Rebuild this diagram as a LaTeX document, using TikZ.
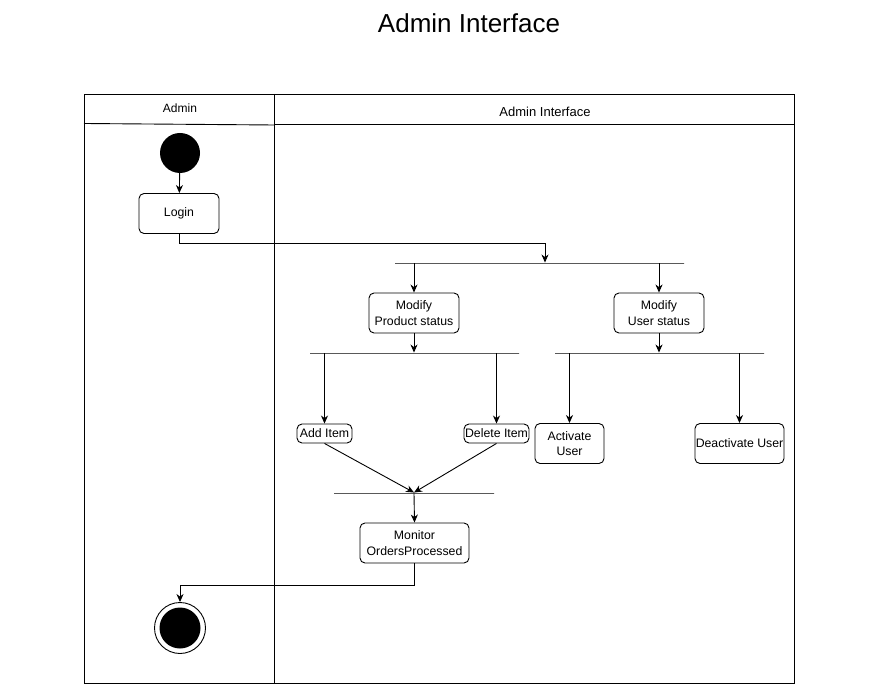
\documentclass[tikz,border=0pt]{standalone}
\usepackage{fontspec}
\setmainfont{Liberation Sans}
\usetikzlibrary{arrows.meta}
\begin{document}
\begin{tikzpicture}[x=1pt,y=-1pt,
  act/.style={draw,rounded corners=5pt,line width=0.9pt,align=center,font=\fontsize{12.3}{15.5}\selectfont,inner sep=0pt},
  bar/.style={draw,line width=0.9pt,minimum height=0pt,inner sep=0pt},
  flow/.style={draw,line width=0.9pt,-{Stealth[length=8pt,width=7pt,inset=2.5pt]}},
  frame/.style={draw,line width=0.9pt}]
\useasboundingbox (0,0) rectangle (878,684);
\node[font=\fontsize{26}{30}\selectfont] (title) at (469,23) {Admin Interface};
% swimlanes
\draw[frame] (84,94) rectangle (794,683);
\draw[frame] (274,94) -- (274,683);
\draw[frame] (84,123.5) -- (274,125);
\draw[frame] (274,124.5) -- (794,124.5);
\node[font=\fontsize{12}{14}\selectfont] (laneA) at (180,108) {Admin};
\node[font=\fontsize{13}{15}\selectfont] (laneB) at (545,112) {Admin Interface};
% start
\node[circle,fill=black,minimum size=40pt,inner sep=0pt] (start) at (180,153) {};
\node[act,minimum width=80pt,minimum height=40pt] (login) at (179,213.5) {Login};
% bars
\node[bar,minimum width=289pt] (b1) at (539.5,263) {};
\node[bar,minimum width=209pt] (b2) at (414.5,353) {};
\node[bar,minimum width=209pt] (b3) at (659.5,353) {};
\node[bar,minimum width=160pt] (b4) at (414,493) {};
% activities
\node[act,minimum width=90pt,minimum height=40pt] (mps) at (414,313) {Modify\\Product status};
\node[act,minimum width=90pt,minimum height=40pt] (mus) at (659,313) {Modify\\User status};
\node[act,minimum width=55pt,minimum height=19pt] (add) at (324.5,433.5) {Add Item};
\node[act,minimum width=65pt,minimum height=19pt] (del) at (496.5,433.5) {Delete Item};
\node[act,minimum width=69pt,minimum height=40pt] (act) at (569.5,443.5) {Activate\\User};
\node[act,minimum width=89pt,minimum height=40pt] (deact) at (739.5,443.5) {Deactivate User};
\node[act,minimum width=109pt,minimum height=40pt] (mon) at (414.5,543) {Monitor\\OrdersProcessed};
% end
\node[circle,draw,line width=0.9pt,minimum size=51pt,inner sep=0pt] (end) at (180,628) {};
\node[circle,fill=black,minimum size=41pt,inner sep=0pt] (endin) at (180,628) {};
% connectors
\draw[flow] (start) -- (login);
\draw[flow] (login.south) |- (545,243) -- (b1.north -| 545,0);
\draw[flow] (b1.south -| mps.north) -- (mps.north);
\draw[flow] (b1.south -| mus.north) -- (mus.north);
\draw[flow] (mps.south) -- (mps.south |- b2.north);
\draw[flow] (mus.south) -- (mus.south |- b3.north);
\draw[flow] (b2.south -| add.north) -- (add.north);
\draw[flow] (b2.south -| del.north) -- (del.north);
\draw[flow] (b3.south -| act.north) -- (act.north);
\draw[flow] (b3.south -| deact.north) -- (deact.north);
\draw[flow] (add.south) -- (b4.north);
\draw[flow] (del.south) -- (b4.north);
\draw[flow] (b4.south) -- (mon.north);
\draw[flow] (mon.south) |- (180,585) -- (end.north);
\end{tikzpicture}
\end{document}
